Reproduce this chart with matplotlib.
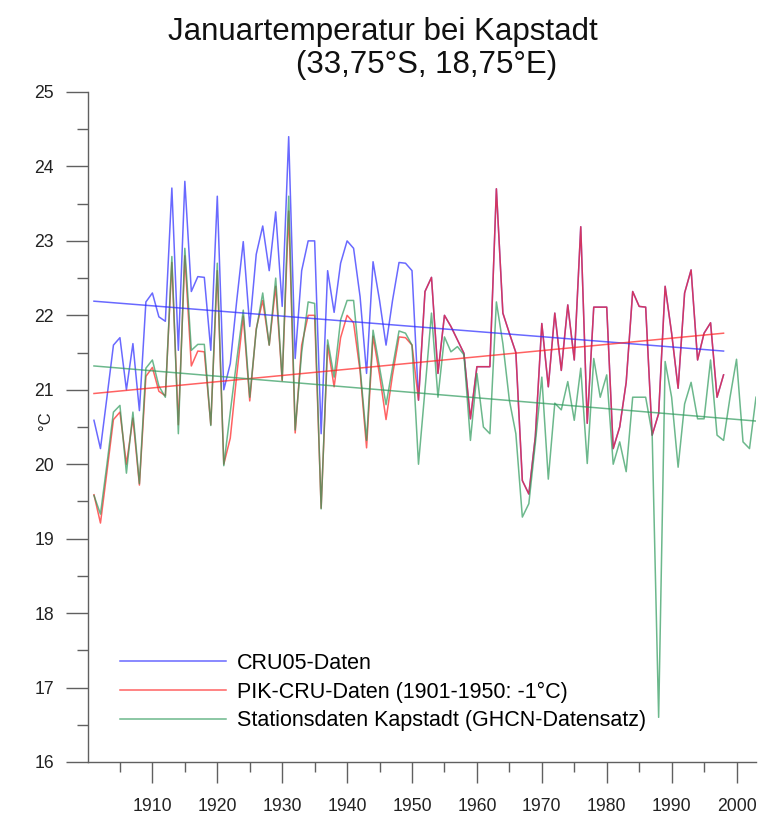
import numpy as np
import matplotlib
matplotlib.use('Agg')
import matplotlib.pyplot as plt
from matplotlib.ticker import MultipleLocator

plt.rcParams['font.family'] = ['Liberation Sans', 'DejaVu Sans']

# CRU05 January temperature, 1901-1998
cru_years = np.arange(1901, 1999)
cru = [20.59, 20.21, 20.9, 21.6, 21.7, 21.0, 21.62, 20.72, 22.18, 22.3,
       21.98, 21.92, 23.71, 21.53, 23.8, 22.32, 22.52, 22.51, 21.53, 23.6,
       21.0, 21.35, 22.2, 22.99, 21.85, 22.82, 23.2, 22.6, 23.39, 22.12,
       24.4, 21.42, 22.6, 23.0, 23.0, 20.41, 22.6, 22.04, 22.7, 23.0,
       22.9, 22.25, 21.22, 22.72, 22.2, 21.6, 22.2, 22.71, 22.7, 22.6,
       20.86, 22.32, 22.51, 21.22, 22.0, 21.85, 21.67, 21.49, 20.61, 21.31,
       21.31, 21.31, 23.7, 22.03, 21.76, 21.5, 19.78, 19.6, 20.37, 21.89,
       21.04, 22.03, 21.26, 22.14, 21.4, 23.19, 20.55, 22.11, 22.11, 22.11,
       20.21, 20.5, 21.1, 22.32, 22.12, 22.11, 20.39, 20.68, 22.39, 21.76,
       21.02, 22.3, 22.61, 21.4, 21.76, 21.9, 20.9, 21.2]

# PIK-CRU (1901-1950 lowered by 1 degree)
pik = [19.59, 19.21, 19.9, 20.6, 20.7, 20.0, 20.62, 19.72, 21.18, 21.3,
       20.98, 20.92, 22.71, 20.53, 22.8, 21.32, 21.52, 21.51, 20.53, 22.6,
       20.0, 20.35, 21.2, 21.99, 20.85, 21.82, 22.2, 21.6, 22.39, 21.12,
       23.4, 20.42, 21.6, 22.0, 22.0, 19.41, 21.6, 21.04, 21.7, 22.0,
       21.9, 21.25, 20.22, 21.72, 21.2, 20.6, 21.2, 21.71, 21.7, 21.6,
       20.86, 22.32, 22.51, 21.22, 22.0, 21.85, 21.67, 21.49, 20.61, 21.31,
       21.31, 21.31, 23.7, 22.03, 21.76, 21.5, 19.78, 19.6, 20.37, 21.89,
       21.04, 22.03, 21.26, 22.14, 21.4, 23.19, 20.55, 22.11, 22.11, 22.11,
       20.21, 20.5, 21.1, 22.32, 22.12, 22.11, 20.39, 20.68, 22.39, 21.76,
       21.02, 22.3, 22.61, 21.4, 21.76, 21.9, 20.9, 21.2]

# GHCN station Kapstadt, 1901-2003
stat_years = np.arange(1901, 2004)
station = [19.58, 19.33, 20.0, 20.7, 20.79, 19.88, 20.7, 19.74, 21.29, 21.4,
           21.05, 20.9, 22.79, 20.41, 22.9, 21.53, 21.61, 21.61, 20.52, 22.7,
           19.98, 20.7, 21.4, 22.07, 20.9, 21.8, 22.3, 21.6, 22.5, 21.13,
           23.6, 20.46, 21.5, 22.18, 22.16, 19.4, 21.67, 21.17, 21.94, 22.2,
           22.2, 21.3, 20.32, 21.8, 21.3, 20.8, 21.3, 21.79, 21.76, 21.6,
           20.0, 21.0, 22.03, 20.9, 21.71, 21.51, 21.58, 21.47, 20.32, 21.22,
           20.5, 20.41, 22.18, 21.62, 20.86, 20.41, 19.29, 19.47, 20.28, 21.17,
           19.8, 20.82, 20.73, 21.11, 20.59, 21.29, 20.01, 21.42, 20.9, 21.2,
           20.0, 20.3, 19.9, 20.9, 20.9, 20.9, 20.41, 16.6, 21.38, 20.9,
           19.96, 20.81, 21.1, 20.61, 20.61, 21.4, 20.39, 20.32, 20.9, 21.41,
           20.3, 20.21, 20.9]

# linear trends (start / end values)
cru_trend = [22.19, 21.52]
pik_trend = [20.95, 21.76]
stat_trend = [21.32, 20.58]

labels = ['CRU05-Daten', 'PIK-CRU-Daten (1901-1950: -1\u00b0C)',
          'Stationsdaten Kapstadt (GHCN-Datensatz)']
c_blue, c_red, c_green = '#2a2aff', '#ff1f1f', '#2e9a5c'

fig = plt.figure(figsize=(7.58, 8.14), dpi=100)
ax = fig.add_axes([88 / 758, 52 / 814, 668 / 758, 670 / 814])

lw = 1.1
l1, = ax.plot(cru_years, cru, color=c_blue, lw=lw, alpha=0.7)
l2, = ax.plot(cru_years, pik, color=c_red, lw=lw, alpha=0.7)
l3, = ax.plot(stat_years, station, color=c_green, lw=lw, alpha=0.7)
ax.plot([cru_years[0], cru_years[-1]], cru_trend, color=c_blue, lw=lw, alpha=0.7)
ax.plot([cru_years[0], cru_years[-1]], pik_trend, color=c_red, lw=lw, alpha=0.7)
ax.plot([stat_years[0], stat_years[-1]], stat_trend, color=c_green, lw=lw, alpha=0.7)

ax.set_xlim(1900.08, 2003)
ax.set_ylim(16, 25)
ax.xaxis.set_major_locator(MultipleLocator(10))
ax.xaxis.set_minor_locator(MultipleLocator(5))
ax.yaxis.set_major_locator(MultipleLocator(1))
ax.yaxis.set_minor_locator(MultipleLocator(0.5))

for s in ['top', 'right']:
    ax.spines[s].set_visible(False)
for s in ['left', 'bottom']:
    ax.spines[s].set_color('#606060')
    ax.spines[s].set_linewidth(1.0)

ax.tick_params(axis='both', which='both', direction='out', color='#606060',
               width=1.0, labelsize=12.7, labelcolor='#222222')
ax.tick_params(axis='y', which='major', length=16, pad=8.5)
ax.tick_params(axis='y', which='minor', length=8)
ax.tick_params(axis='x', which='major', length=15, pad=11)
ax.tick_params(axis='x', which='minor', length=7)

ax.set_ylabel('\u00b0C', fontsize=12, color='#222222')
ax.yaxis.set_label_coords(-0.052, 0.51)

ax.legend([l1, l2, l3], labels, loc='upper left', bbox_to_anchor=(0.048, 0.163),
          frameon=False, fontsize=15.5, handlelength=4.93, handletextpad=0.5,
          labelspacing=0.36, borderpad=0, borderaxespad=0)

fig.text(383 / 758, 1 - 40 / 814, 'Januartemperatur bei Kapstadt',
         ha='center', va='baseline', fontsize=22.5, color='#111111')
fig.text(427 / 758, 1 - 73 / 814, '(33,75\u00b0S, 18,75\u00b0E)',
         ha='center', va='baseline', fontsize=22.5, color='#111111')

fig.savefig('out.png', dpi=100)
